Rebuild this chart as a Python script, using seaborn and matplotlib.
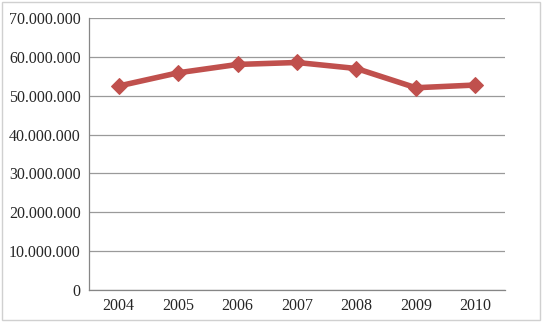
import numpy as np
import pandas as pd
import seaborn as sns
import matplotlib.pyplot as plt
from matplotlib.ticker import FuncFormatter, FixedLocator

years = ["2004", "2005", "2006", "2007", "2008", "2009", "2010"]
values = [52500000, 55900000, 58050000, 58550000, 57000000, 52050000, 52750000]

sns.set_style("white")
plt.rcParams['font.family'] = ['Liberation Serif', 'DejaVu Serif']

fig = plt.figure(figsize=(5.43, 3.22), dpi=100)
ax = fig.add_axes([89 / 543, 1 - 290 / 322, (505 - 89) / 543, (290 - 18) / 322])

df = pd.DataFrame({"x": np.arange(len(years)), "value": values})
sns.lineplot(data=df, x="x", y="value", ax=ax, color="#C0504D", linewidth=4,
             marker="D", markersize=8, markeredgecolor="#C0504D")

ax.set_xlim(-0.5, len(years) - 0.5)
ax.set_ylim(0, 70000000)
ax.set_yticks(np.arange(0, 70000001, 10000000))
ax.yaxis.set_major_formatter(FuncFormatter(lambda v, p: f"{int(v):,}".replace(",", ".")))
ax.set_xticks(np.arange(len(years)))
ax.set_xticklabels(years)
ax.xaxis.set_minor_locator(FixedLocator(np.arange(-0.5, len(years), 1.0)))
ax.tick_params(axis="x", which="major", length=0, pad=6, labelsize=11.5)
ax.tick_params(axis="x", which="minor", length=5, color="#868686", width=0.8)
ax.tick_params(axis="y", length=0, pad=6, labelsize=11.5)
ax.grid(axis="y", color="#9a9a9a", linewidth=0.9)
ax.set_axisbelow(True)
ax.set_xlabel("")
ax.set_ylabel("")
for s in ["top", "right"]:
    ax.spines[s].set_visible(False)
for s in ["left", "bottom"]:
    ax.spines[s].set_color("#868686")
    ax.spines[s].set_linewidth(0.9)

fig.patches.append(plt.Rectangle((0.004, 0.006), 0.99, 0.988, transform=fig.transFigure,
                                 fill=False, edgecolor="#d0d0d0", linewidth=1))

fig.savefig("out.png", dpi=100)
